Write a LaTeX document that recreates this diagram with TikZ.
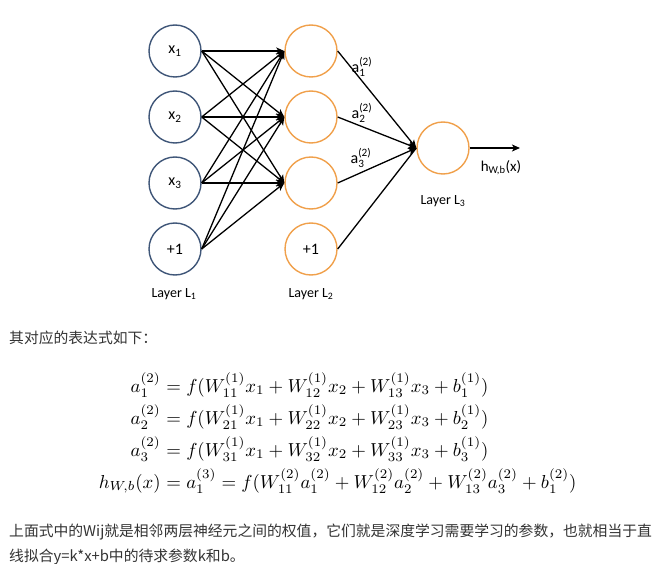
\documentclass[tikz,border=0pt]{standalone}
\usepackage{amsmath}
\usepackage{graphicx}
\usepackage{fontspec}
\newfontfamily\calib{Carlito}
\newfontfamily\cjk{Noto Sans CJK SC}
\usetikzlibrary{arrows.meta}
\definecolor{bluec}{HTML}{3F5678}
\definecolor{orangec}{HTML}{F0A04B}
\definecolor{txt}{HTML}{333333}
\newcommand{\eqs}[1]{\scalebox{1.88}{$#1$}}
\begin{document}
\begin{tikzpicture}[x=1pt,y=-1pt,
  neuron/.style={circle,draw,line width=1.4pt,minimum size=52pt,inner sep=0pt,font=\calib\fontsize{16}{16}\selectfont},
  inl/.style={neuron,draw=bluec},
  hid/.style={neuron,draw=orangec},
  conn/.style={line width=1.3pt,-{Stealth[length=8pt,width=7pt,inset=2pt]}},
  plain/.style={line width=1.3pt},
  lab/.style={font=\calib\fontsize{14}{14}\selectfont,inner sep=0pt},
  alab/.style={font=\calib\fontsize{16}{16}\selectfont,inner sep=0pt},
  cn/.style={font=\cjk\fontsize{14.8}{14.8}\selectfont,text=txt,inner sep=0pt,anchor=west},
  eqn/.style={inner sep=0pt}]
\useasboundingbox (0,0) rectangle (669,564);
% layer 1
\node[inl] (x1) at (175,51) {x\textsubscript{1}};
\node[inl] (x2) at (175,117) {x\textsubscript{2}};
\node[inl] (x3) at (175,183) {x\textsubscript{3}};
\node[inl] (x4) at (175,249) {+1};
% layer 2
\node[hid] (h1) at (311,51) {};
\node[hid] (h2) at (311,117) {};
\node[hid] (h3) at (311,183) {};
\node[hid] (h4) at (311,249) {+1};
% layer 3
\node[hid] (o) at (443,148) {};
\coordinate (out) at (520,148);
% connections
\foreach \i in {x1,x2,x3,x4}{
  \foreach \j in {h1,h2,h3}{
    \draw[conn] (\i.east) -- (\j.west);
  }
}
\foreach \j in {h1,h2,h3}{
  \draw[conn] (\j.east) -- (o.west);
}
\draw[plain] (h4.east) -- (o.west);
\draw[conn] (o.east) -- (out);
% labels
\node[lab] (l1) at (174,294) {Layer L\textsubscript{1}};
\node[lab] (l2) at (311,294) {Layer L\textsubscript{2}};
\node[lab] (l3) at (443,201) {Layer L\textsubscript{3}};
\node[alab,font=\calib\fontsize{15}{15}\selectfont] (hl) at (501,168) {h\textsubscript{W,b}(x)};
\node[alab] (a1) at (362,67) {a$^{\text{(2)}}_{\text{1}}$};
\node[alab] (a2) at (362,113) {a$^{\text{(2)}}_{\text{2}}$};
\node[alab] (a3) at (361,158) {a$^{\text{(2)}}_{\text{3}}$};
% text
\node[cn] (t1) at (9,338) {其对应的表达式如下：};
\node[eqn,anchor=base east] (e1l) at (161,392) {\eqs{a_1^{(2)}}};
\node[eqn,anchor=base west] (e1r) at (161,392) {\eqs{{}= f(W_{11}^{(1)}x_1 + W_{12}^{(1)}x_2 + W_{13}^{(1)}x_3 + b_1^{(1)})}};
\node[eqn,anchor=base east] (e2l) at (161,424) {\eqs{a_2^{(2)}}};
\node[eqn,anchor=base west] (e2r) at (161,424) {\eqs{{}= f(W_{21}^{(1)}x_1 + W_{22}^{(1)}x_2 + W_{23}^{(1)}x_3 + b_2^{(1)})}};
\node[eqn,anchor=base east] (e3l) at (161,456) {\eqs{a_3^{(2)}}};
\node[eqn,anchor=base west] (e3r) at (161,456) {\eqs{{}= f(W_{31}^{(1)}x_1 + W_{32}^{(1)}x_2 + W_{33}^{(1)}x_3 + b_3^{(1)})}};
\node[eqn,anchor=base east] (e4l) at (161,488) {\eqs{h_{W,b}(x)}};
\node[eqn,anchor=base west] (e4r) at (161,488) {\eqs{{}= a_1^{(3)} = f(W_{11}^{(2)}a_1^{(2)} + W_{12}^{(2)}a_2^{(2)} + W_{13}^{(2)}a_3^{(2)} + b_1^{(2)})}};
\node[cn] (t2) at (9,532) {上面式中的Wij就是相邻两层神经元之间的权值，它们就是深度学习需要学习的参数，也就相当于直};
\node[cn] (t3) at (9,557) {线拟合y=k*x+b中的待求参数k和b。};
\end{tikzpicture}
\end{document}
